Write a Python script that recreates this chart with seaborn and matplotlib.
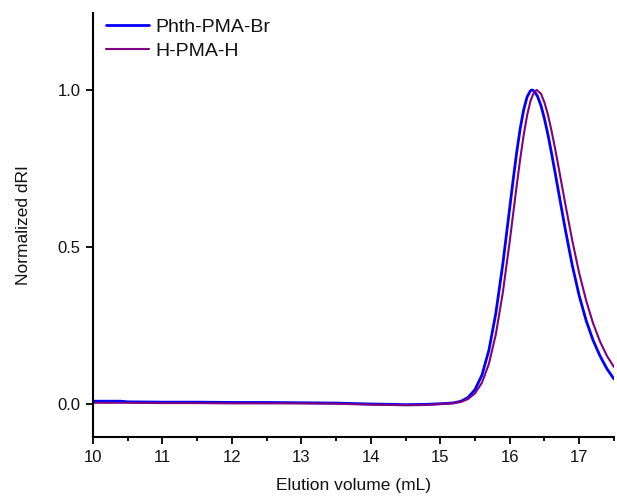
import matplotlib
matplotlib.use("Agg")
import matplotlib.pyplot as plt
from matplotlib.ticker import MultipleLocator
import numpy as np
import pandas as pd
import seaborn as sns

# GPC traces (normalized dRI vs elution volume)
phth_volume = [10.0, 10.4, 10.5, 11.0, 11.5, 12.0, 12.5, 13.0, 13.5, 14.0, 14.3, 14.5,
               14.8, 15.0, 15.1, 15.2, 15.3, 15.4, 15.5, 15.6, 15.7, 15.8, 15.9, 16.0,
               16.05, 16.1, 16.15, 16.2, 16.25, 16.3, 16.32, 16.35, 16.4, 16.45, 16.5,
               16.55, 16.6, 16.65, 16.7, 16.8, 16.9, 17.0, 17.1, 17.2, 17.3, 17.4, 17.5]
phth_dri = [0.009, 0.009, 0.007, 0.006, 0.006, 0.005, 0.005, 0.004, 0.003, 0.000, -0.001, -0.002,
            -0.001, 0.001, 0.002, 0.004, 0.009, 0.021, 0.046, 0.092, 0.171, 0.289, 0.445, 0.625,
            0.715, 0.801, 0.876, 0.936, 0.978, 0.998, 1.000, 0.997, 0.980, 0.950, 0.908,
            0.858, 0.801, 0.741, 0.679, 0.556, 0.442, 0.345, 0.266, 0.203, 0.153, 0.112, 0.080]

h_volume = [10.0, 10.5, 11.0, 11.5, 12.0, 12.5, 13.0, 13.5, 14.0, 14.3, 14.5, 14.8,
            15.0, 15.1, 15.2, 15.3, 15.4, 15.5, 15.6, 15.7, 15.8, 15.9, 16.0, 16.05,
            16.1, 16.15, 16.2, 16.25, 16.3, 16.35, 16.39, 16.45, 16.5, 16.55, 16.6,
            16.65, 16.7, 16.8, 16.9, 17.0, 17.1, 17.2, 17.3, 17.4, 17.5]
h_dri = [0.004, 0.004, 0.003, 0.003, 0.002, 0.002, 0.002, 0.001, -0.002, -0.003, -0.004, -0.003,
         0.000, 0.001, 0.003, 0.007, 0.016, 0.034, 0.068, 0.128, 0.222, 0.354, 0.518, 0.607,
         0.695, 0.779, 0.855, 0.919, 0.966, 0.993, 1.000, 0.988, 0.960, 0.921, 0.872,
         0.817, 0.758, 0.637, 0.521, 0.417, 0.330, 0.257, 0.199, 0.153, 0.118]

series_names = ["Phth-PMA-Br", "H-PMA-H"]

sns.set_theme(style="white")
plt.rcParams["font.family"] = ["Liberation Sans", "DejaVu Sans"]

fig = plt.figure(figsize=(6.17, 4.97), dpi=100)
ax = fig.add_axes([0.1507, 0.1207, 0.8443, 0.8531])

df_phth = pd.DataFrame({"volume": phth_volume, "dri": phth_dri})
df_h = pd.DataFrame({"volume": h_volume, "dri": h_dri})

sns.lineplot(data=df_phth, x="volume", y="dri", ax=ax, color="#0000FF",
             linewidth=2.0, label=series_names[0], sort=False)
sns.lineplot(data=df_h, x="volume", y="dri", ax=ax, color="#800080",
             linewidth=1.5, label=series_names[1], sort=False)

ax.set_xlim(10, 17.5)
ax.set_ylim(-0.105, 1.245)
ax.xaxis.set_major_locator(MultipleLocator(1))
ax.xaxis.set_minor_locator(MultipleLocator(0.5))
ax.set_yticks([0.0, 0.5, 1.0])
ax.set_yticklabels(["0.0", "0.5", "1.0"])

for side in ("top", "right"):
    ax.spines[side].set_visible(False)
for side in ("left", "bottom"):
    ax.spines[side].set_color("black")
    ax.spines[side].set_linewidth(1.5)

ax.tick_params(axis="both", which="major", direction="out", length=5, width=1.3,
               color="black", labelsize=12, labelcolor="#111111", bottom=True, left=True, pad=4)
ax.tick_params(axis="x", which="minor", direction="out", length=3, width=1.3,
               color="black", bottom=True)

ax.set_xlabel("Elution volume (mL)", fontsize=12.5, color="#111111", labelpad=10)
ax.set_ylabel("Normalized dRI", fontsize=12.5, color="#111111", labelpad=19)

leg = ax.legend(loc="upper left", frameon=False, fontsize=14, handlelength=2.2,
                handletextpad=0.35, labelspacing=0.3, borderaxespad=0.0,
                bbox_to_anchor=(0.010, 1.005))
for text in leg.get_texts():
    text.set_color("#111111")

fig.savefig("out.png", dpi=100)
